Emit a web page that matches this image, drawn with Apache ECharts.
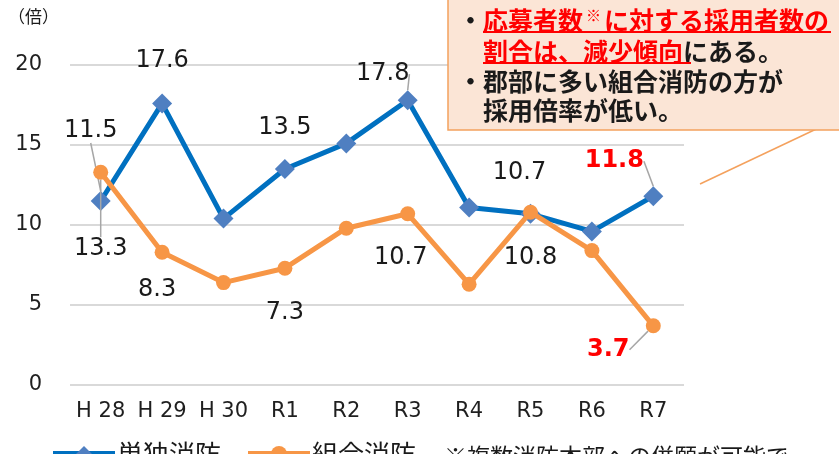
<!DOCTYPE html>
<html>
<head>
<meta charset="utf-8">
<script src="https://cdn.jsdelivr.net/npm/echarts@6/dist/echarts.min.js"></script>
<style>
  html, body { margin: 0; padding: 0; background: #fff; }
  #chart { width: 839px; height: 454px; }
</style>
</head>
<body>
<div id="chart"></div>
<script>
// 年度
var categories = ["H 28", "H 29", "H 30", "R1", "R2", "R3", "R4", "R5", "R6", "R7"];
// 単独消防 (倍)
var tandoku = [11.5, 17.6, 10.4, 13.5, 15.1, 17.8, 11.1, 10.7, 9.6, 11.8];
// 組合消防 (倍)
var kumiai = [13.3, 8.3, 6.4, 7.3, 9.8, 10.7, 6.3, 10.8, 8.4, 3.7];
// 値ラベルを出す年度
var tandokuShown = [true, true, false, true, false, true, false, true, false, true];
var kumiaiShown = [true, true, false, true, false, true, false, true, false, true];
var yTicks = { min: 0, max: 20, interval: 5 };

// ラベル位置(点からのずれ px)
var tandokuOffset = [[-10, -70], [0, -43], null, [0, -41], null, [-25, -26], null, [-11, -41], null, [-39, -35]];
var kumiaiOffset = [[0, 77], [-5, 38], null, [0, 45], null, [-7, 44], null, [0, 46], null, [-45, 24]];
var lastIdx = categories.length - 1;

var numFont = "DejaVu Sans";
var jpFont = "Noto Sans CJK JP";

function buildData(values, shown, withGuide) {
  return values.map(function (v, i) {
    var item = { value: v, label: { show: shown[i] } };
    if (i === lastIdx) {
      item.label.color = "#ff0000";
      item.label.fontWeight = "bold";
    }
    if (withGuide.indexOf(i) >= 0) {
      item.labelLine = { show: true };
    }
    return item;
  });
}

function layoutFrom(offsets) {
  return function (params) {
    var o = offsets[params.dataIndex];
    if (!o) return {};
    return { dx: o[0], dy: o[1] };
  };
}

var chart = echarts.init(document.getElementById("chart"));

chart.setOption({
  animation: false,
  textStyle: { fontFamily: numFont },
  grid: { left: 70, right: 155, top: 65, bottom: 69 },
  legend: {
    left: 45,
    top: 436,
    itemWidth: 62,
    itemHeight: 20,
    itemGap: 24,
    itemStyle: {},
    lineStyle: { width: 6 },
    textStyle: { fontFamily: jpFont, fontSize: 26, color: "#1a1a1a", padding: [0, 0, 0, -3] },
    data: ["単独消防", "組合消防"]
  },
  xAxis: {
    type: "category",
    data: categories,
    axisLine: { show: false },
    axisTick: { show: false },
    axisLabel: { color: "#1f1f1f", fontSize: 21, margin: 16, interval: 0 }
  },
  yAxis: {
    type: "value",
    min: yTicks.min,
    max: yTicks.max,
    interval: yTicks.interval,
    axisLine: { show: false },
    axisTick: { show: false },
    axisLabel: { color: "#1f1f1f", fontSize: 21, margin: 28 },
    splitLine: { lineStyle: { color: "#d9d9d9", width: 2 } }
  },
  series: [
    {
      name: "単独消防",
      type: "line",
      data: buildData(tandoku, tandokuShown, [0, 5, 9]),
      symbol: "diamond",
      symbolSize: 20,
      lineStyle: { color: "#0070c0", width: 5 },
      itemStyle: { color: "#4f7fc1" },
      label: {
        position: "inside",
        fontSize: 24,
        color: "#1a1a1a",
        fontFamily: numFont
      },
      labelLine: { lineStyle: { color: "#a6a6a6", width: 1.5 } },
      labelLayout: layoutFrom(tandokuOffset),
      z: 2
    },
    {
      name: "組合消防",
      type: "line",
      data: buildData(kumiai, kumiaiShown, [0, 9]),
      symbol: "circle",
      symbolSize: 15,
      lineStyle: { color: "#f79646", width: 5 },
      itemStyle: { color: "#f79646" },
      label: {
        position: "inside",
        fontSize: 24,
        color: "#1a1a1a",
        fontFamily: numFont
      },
      labelLine: { lineStyle: { color: "#a6a6a6", width: 1.5 } },
      labelLayout: layoutFrom(kumiaiOffset),
      z: 3
    }
  ],
  graphic: [
    {
      type: "text", left: 8, top: 8,
      style: { text: "（倍）", fontFamily: jpFont, fontSize: 17, fill: "#1a1a1a" }
    },
    // 吹き出しの線
    {
      type: "line", z: 10,
      shape: { x1: 829, y1: 123, x2: 700, y2: 184 },
      style: { stroke: "#f4a15d", lineWidth: 1.5 }
    },
    // 注記ボックス
    {
      type: "rect", z: 11,
      shape: { x: 448, y: -2, width: 400, height: 132 },
      style: { fill: "#fbe5d6", stroke: "#f4a15d", lineWidth: 1.5 }
    },
    {
      type: "text", z: 12, x: 458, y: 20,
      style: {
        text: "{k|・}{r|応募者数}{s|※}{r|に対する採用者数の}",
        verticalAlign: "middle",
        rich: {
          k: { fontFamily: jpFont, fontSize: 25, fontWeight: "bold", fill: "#1a1a1a", width: 25 },
          r: { fontFamily: jpFont, fontSize: 25, fontWeight: "bold", fill: "#ff0000" },
          s: { fontFamily: jpFont, fontSize: 15, fontWeight: "bold", fill: "#ff0000", verticalAlign: "top", padding: [0, 3, 8, 3] }
        }
      }
    },
    {
      type: "text", z: 12, x: 483, y: 51,
      style: {
        text: "{r|割合は、減少傾向}{k|にある。}",
        verticalAlign: "middle",
        rich: {
          k: { fontFamily: jpFont, fontSize: 25, fontWeight: "bold", fill: "#1a1a1a" },
          r: { fontFamily: jpFont, fontSize: 25, fontWeight: "bold", fill: "#ff0000" }
        }
      }
    },
    {
      type: "line", z: 12,
      shape: { x1: 483, y1: 32, x2: 831, y2: 32 },
      style: { stroke: "#ff0000", lineWidth: 2 }
    },
    {
      type: "line", z: 12,
      shape: { x1: 483, y1: 63, x2: 691, y2: 63 },
      style: { stroke: "#ff0000", lineWidth: 2 }
    },
    {
      type: "text", z: 12, x: 458, y: 81,
      style: {
        text: "{k|・}{t|郡部に多い組合消防の方が}",
        verticalAlign: "middle",
        rich: {
          k: { fontFamily: jpFont, fontSize: 25, fontWeight: "bold", fill: "#1a1a1a", width: 25 },
          t: { fontFamily: jpFont, fontSize: 25, fontWeight: "bold", fill: "#1a1a1a" }
        }
      }
    },
    {
      type: "text", z: 12, x: 483, y: 110,
      style: {
        text: "採用倍率が低い。",
        verticalAlign: "middle",
        fontFamily: jpFont, fontSize: 25, fontWeight: "bold", fill: "#1a1a1a"
      }
    },
    // 凡例右の注記
    {
      type: "text", x: 444, y: 456,
      style: {
        text: "※複数消防本部への併願が可能で",
        verticalAlign: "middle",
        fontFamily: jpFont, fontSize: 23, fill: "#1a1a1a"
      }
    }
  ]
});
</script>
</body>
</html>
